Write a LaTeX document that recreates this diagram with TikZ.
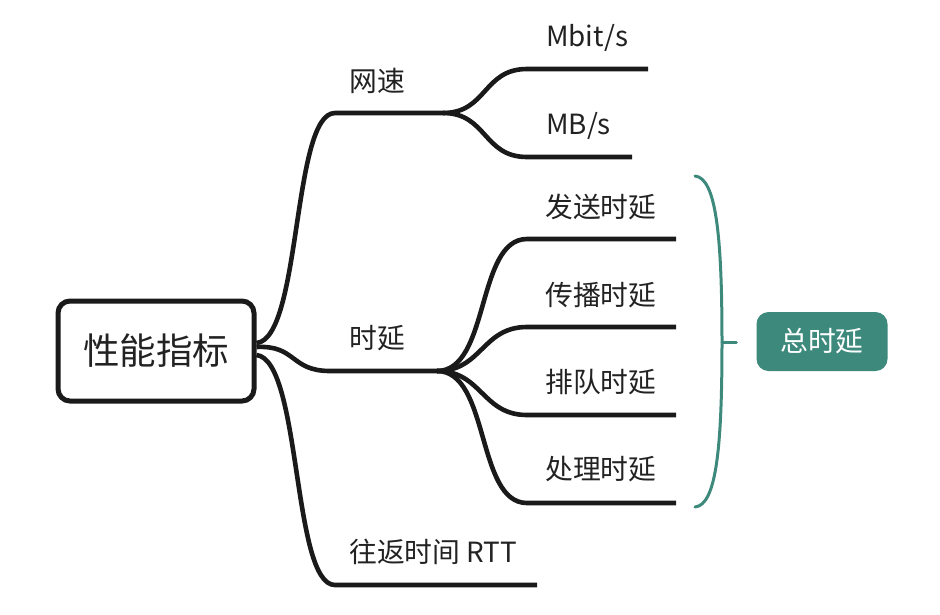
\documentclass[tikz,border=0pt]{standalone}
\usepackage{fontspec}
\setmainfont{Noto Sans CJK SC}
\definecolor{tealc}{HTML}{3D897C}
\definecolor{inkc}{HTML}{1A1A1A}
\definecolor{txtc}{HTML}{222222}
\begin{document}
\begin{tikzpicture}[x=1pt,y=-1pt,
  conn/.style={line width=4.6pt, draw=inkc},
  lbl/.style={anchor=west, font=\fontsize{27.8}{32}\selectfont, inner sep=0pt, text=txtc},
  rootbox/.style={draw=inkc, line width=5pt, rounded corners=12pt, minimum width=196pt, minimum height=100pt, font=\fontsize{36.5}{42}\selectfont, text=txtc, fill=white},
  totalbox/.style={fill=tealc, rounded corners=12pt, minimum width=131pt, minimum height=59pt, font=\fontsize{27.8}{32}\selectfont, text=white, inner sep=0pt},
  bracec/.style={draw=tealc, line width=3pt, line cap=round}
]
\useasboundingbox (0,0) rectangle (940,614);

% root
\node[rootbox] (root) at (156,351) {性能指标};

% level-1 coordinates
\coordinate (wsA) at (335,113);
\coordinate (wsB) at (443,113);
\coordinate (syA) at (330,371);
\coordinate (syB) at (437,371);
\coordinate (rtA) at (335,585);
\coordinate (rtB) at (537,585);

% level-2 coordinates
\coordinate (mbA) at (527,69);  \coordinate (mbB) at (648,69);
\coordinate (MBA) at (527,157); \coordinate (MBB) at (632,157);
\coordinate (d1A) at (527,239); \coordinate (d1B) at (676,239);
\coordinate (d2A) at (527,327); \coordinate (d2B) at (676,327);
\coordinate (d3A) at (527,415); \coordinate (d3B) at (676,415);
\coordinate (d4A) at (527,503); \coordinate (d4B) at (676,503);

% connectors from root
\draw[conn] ([yshift=8pt]root.east) .. controls +(45,-4) and (292,113) .. (wsA) -- (wsB);
\draw[conn] ([yshift=4pt]root.east) .. controls +(40,-2) and (290,371) .. (syA) -- (syB);
\draw[conn] ([yshift=-4pt]root.east) .. controls +(45,5) and (292,585) .. (rtA) -- (rtB);

% 网速 children
\draw[conn] (wsB) .. controls (487,113) and (483,69) .. (mbA) -- (mbB);
\draw[conn] (wsB) .. controls (487,113) and (483,157) .. (MBA) -- (MBB);

% 时延 children
\draw[conn] (syB) .. controls (490,371) and (476,239) .. (d1A) -- (d1B);
\draw[conn] (syB) .. controls (482,371) and (482,327) .. (d2A) -- (d2B);
\draw[conn] (syB) .. controls (482,371) and (482,415) .. (d3A) -- (d3B);
\draw[conn] (syB) .. controls (490,371) and (476,503) .. (d4A) -- (d4B);

% labels
\node[lbl] (ws) at (349,81) {网速};
\node[lbl] (sy) at (349,338) {时延};
\node[lbl] (rt) at (349,552) {往返时间 RTT};
\node[lbl] (mb) at (546,38) {Mbit/s};
\node[lbl] (MB) at (546,126) {MB/s};
\node[lbl] (d1) at (545,207) {发送时延};
\node[lbl] (d2) at (545,295) {传播时延};
\node[lbl] (d3) at (545,382) {排队时延};
\node[lbl] (d4) at (545,469) {处理时延};

% total node and brace
\node[totalbox] (total) at (822,341.5) {总时延};
\coordinate (brT) at (695,176);
\coordinate (brM) at (722,342);
\coordinate (brB) at (695,507);
\draw[bracec] (brT) .. controls (716,178) and (722,235) .. (brM)
  .. controls (722,450) and (716,505) .. (brB);
\draw[bracec] (brM) -- ([xshift=-20pt]total.west |- brM);
\end{tikzpicture}
\end{document}
